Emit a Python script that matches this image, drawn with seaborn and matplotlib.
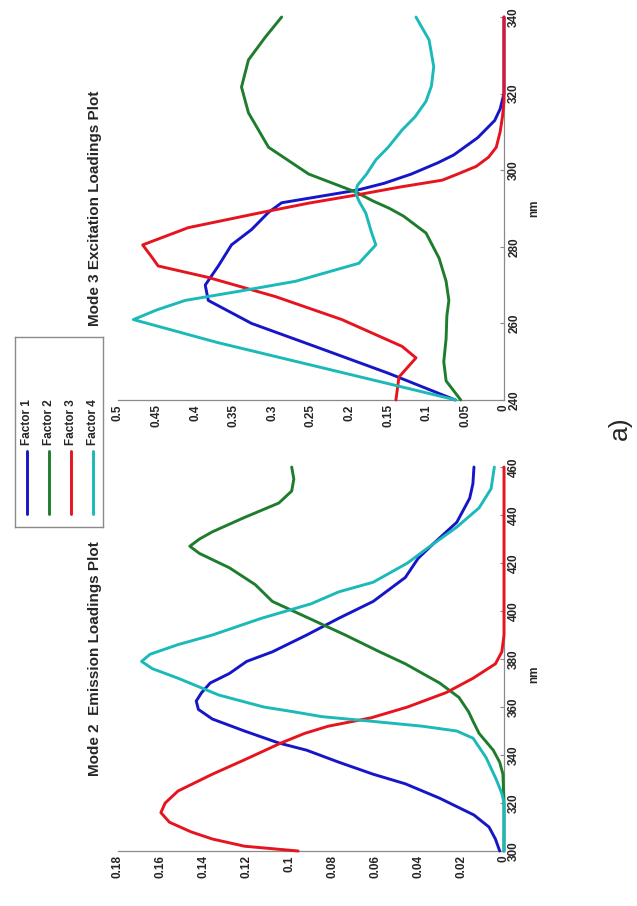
import matplotlib
matplotlib.use("Agg")
import matplotlib.pyplot as plt
import pandas as pd
import seaborn as sns

sns.set_style("white")
plt.rcParams["font.family"] = ["Liberation Sans", "DejaVu Sans"]

FACTORS = ["Factor 1", "Factor 2", "Factor 3", "Factor 4"]
COLORS = {"Factor 1": "#1616c8", "Factor 2": "#1e7d2d",
          "Factor 3": "#e6141e", "Factor 4": "#1cb9b9"}

# ---- Mode 2: emission loadings (nm, loading) ----
em_nm_f1 = [300, 305, 310, 315, 322, 328, 332, 337, 342, 345, 350, 355, 359, 362.5,
            366, 370, 374, 379, 383, 390, 397, 404, 414, 422, 428, 437, 447, 453, 460]
em_f1 = [0.002, 0.004, 0.007, 0.014, 0.030, 0.046, 0.061, 0.077, 0.092, 0.105, 0.121,
         0.136, 0.1425, 0.1435, 0.141, 0.137, 0.128, 0.120, 0.108, 0.092, 0.077, 0.061,
         0.046, 0.040, 0.033, 0.022, 0.016, 0.0145, 0.014]

em_nm_f2 = [300, 320, 332, 337, 342, 349, 354, 358, 364, 370, 378, 383, 390, 397, 404,
            411, 418, 424, 427, 430, 433, 439, 445, 450, 455, 460]
em_f2 = [0.0, 0.0, 0.0005, 0.002, 0.005, 0.0116, 0.0144, 0.0165, 0.021, 0.030, 0.046,
         0.058, 0.074, 0.091, 0.108, 0.116, 0.128, 0.142, 0.1465, 0.142, 0.136, 0.121,
         0.105, 0.099, 0.098, 0.099]

em_nm_f3 = [300, 302, 305, 308, 312, 316, 320, 325, 332, 338, 345, 349, 352, 355.5,
            360, 366, 372, 378, 383, 390, 400, 420, 440, 460]
em_f3 = [0.096, 0.121, 0.136, 0.146, 0.156, 0.160, 0.158, 0.152, 0.136, 0.121, 0.104,
         0.093, 0.082, 0.062, 0.045, 0.027, 0.0144, 0.004, 0.001, 0.0, 0.0, 0.0, 0.0, 0.0]

em_nm_f4 = [300, 320, 324, 330, 339, 347, 350, 352, 354, 356, 358, 360, 365, 372, 376,
            379, 382, 386, 390, 397, 403, 408, 412, 420, 426, 435, 443, 451, 460]
em_f4 = [0.0, 0.0, 0.001, 0.0037, 0.0084, 0.0144, 0.022, 0.038, 0.061, 0.085, 0.098,
         0.112, 0.133, 0.152, 0.164, 0.169, 0.165, 0.152, 0.136, 0.113, 0.090, 0.077,
         0.061, 0.045, 0.036, 0.022, 0.0116, 0.006, 0.0045]

# ---- Mode 3: excitation loadings (nm, loading) ----
ex_nm_f1 = [240, 247, 254, 260, 263, 266, 270, 275, 280.5, 284.5, 289, 291.5, 294.8,
            296.6, 299, 302, 304, 308.5, 313, 316, 320, 330, 340]
ex_f1 = [0.063, 0.15, 0.245, 0.327, 0.355, 0.383, 0.387, 0.37, 0.353, 0.327, 0.305,
         0.288, 0.19, 0.155, 0.12, 0.085, 0.065, 0.034, 0.012, 0.005, 0.0, 0.0, 0.0]

ex_nm_f2 = [240, 245, 250, 256, 262, 266, 271, 277, 283.6, 288, 290, 292, 294.3, 299,
            306, 315, 321.7, 328.8, 334.8, 340]
ex_f2 = [0.056, 0.075, 0.078, 0.075, 0.074, 0.0714, 0.075, 0.084, 0.101, 0.13, 0.148,
         0.17, 0.192, 0.253, 0.305, 0.331, 0.34, 0.331, 0.309, 0.288]

ex_nm_f3 = [240, 246, 251, 254, 261, 267, 272, 275, 277, 280.5, 285, 288.8, 291.4,
            293.5, 295.6, 297.4, 299, 301, 303.4, 306, 310, 314, 318, 340]
ex_f3 = [0.14, 0.136, 0.114, 0.132, 0.21, 0.296, 0.383, 0.448, 0.455, 0.468, 0.409,
         0.318, 0.253, 0.192, 0.135, 0.08, 0.06, 0.036, 0.02, 0.01, 0.005, 0.002, 0.0, 0.0]

ex_nm_f4 = [240, 245, 250, 255, 261, 263.5, 266, 268.5, 271, 275.7, 280.5, 284, 288.8,
            292, 294, 296, 299, 302.7, 306, 310.5, 314, 318, 322, 327, 334, 340]
ex_f4 = [0.062, 0.165, 0.268, 0.371, 0.48, 0.45, 0.413, 0.34, 0.27, 0.188, 0.166, 0.172,
         0.179, 0.188, 0.192, 0.19, 0.178, 0.166, 0.15, 0.132, 0.115, 0.101, 0.094,
         0.091, 0.097, 0.114]

# ---- axis ticks ----
em_nm_ticks = [300, 320, 340, 360, 380, 400, 420, 440, 460]
em_load_ticks = [0, 0.02, 0.04, 0.06, 0.08, 0.1, 0.12, 0.14, 0.16, 0.18]
ex_nm_ticks = [240, 260, 280, 300, 320, 340]
ex_load_ticks = [0, 0.05, 0.1, 0.15, 0.2, 0.25, 0.3, 0.35, 0.4, 0.45, 0.5]

em_title = "Mode 2  Emission Loadings Plot"
ex_title = "Mode 3 Excitation Loadings Plot"


def long_table(nm_lists, val_lists):
    frames = [pd.DataFrame({"nm": nm, "loading": val, "factor": name})
              for name, nm, val in zip(FACTORS, nm_lists, val_lists)]
    return pd.concat(frames, ignore_index=True)


em_df = long_table([em_nm_f1, em_nm_f2, em_nm_f3, em_nm_f4], [em_f1, em_f2, em_f3, em_f4])
ex_df = long_table([ex_nm_f1, ex_nm_f2, ex_nm_f3, ex_nm_f4], [ex_f1, ex_f2, ex_f3, ex_f4])

TICK_FS = 8.5
SPINE_C = "#8a8a8a"


def draw_panel(ax, df, nm_ticks, load_ticks, title, nm_label_y):
    sns.lineplot(data=df, x="loading", y="nm", hue="factor", hue_order=FACTORS,
                 palette=COLORS, estimator=None, orient="y", linewidth=2.1,
                 legend=False, ax=ax)
    for ln in ax.lines:
        ln.set_clip_on(False)
        ln.set_zorder(3)
    # page is turned a quarter: wavelength runs upward, loading grows to the left
    ax.set_xlim(load_ticks[-1], 0)
    ax.set_ylim(nm_ticks[0], nm_ticks[-1])
    ax.yaxis.tick_right()
    for side in ("left", "top"):
        ax.spines[side].set_visible(False)
    for side in ("right", "bottom"):
        ax.spines[side].set_color(SPINE_C)
        ax.spines[side].set_linewidth(0.9)
    ax.tick_params(axis="both", direction="in", length=3, width=0.8,
                   color=SPINE_C, pad=3)
    ax.set_yticks(nm_ticks)
    ax.set_yticklabels([f"{t:g}" for t in nm_ticks], rotation=90, va="center",
                       fontsize=TICK_FS, fontweight="bold")
    ax.set_xticks(load_ticks)
    ax.set_xticklabels([f"{t:g}" for t in load_ticks], rotation=90, ha="center",
                       va="top", fontsize=TICK_FS, fontweight="bold")
    ax.set_xlabel("")
    ax.yaxis.set_label_position("right")
    ax.set_ylabel("nm", rotation=90, fontsize=TICK_FS, fontweight="bold")
    ax.yaxis.label.set_va("center")
    ax.yaxis.set_label_coords(1.078, nm_label_y)
    ax.text(-0.06, 0.5, title, transform=ax.transAxes, rotation=90,
            ha="center", va="center", fontsize=11, fontweight="bold")


fig = plt.figure(figsize=(6.37, 9.06), dpi=100)
ax_ex = fig.add_axes([0.1852, 0.5585, 0.606, 0.4227])
ax_em = fig.add_axes([0.1852, 0.0607, 0.606, 0.4238])

draw_panel(ax_ex, ex_df, ex_nm_ticks, ex_load_ticks, ex_title, 0.5)
draw_panel(ax_em, em_df, em_nm_ticks, em_load_ticks, em_title, 0.46)

# legend box, turned with the page
lg = fig.add_axes([0.0236, 0.4183, 0.1381, 0.2097])
lg.set_xlim(0, 4)
lg.set_ylim(0, 1)
lg.set_xticks([])
lg.set_yticks([])
for sp in lg.spines.values():
    sp.set_color(SPINE_C)
    sp.set_linewidth(1.0)
for i, name in enumerate(FACTORS):
    x = i + 0.55
    lg.plot([x, x], [0.07, 0.40], color=COLORS[name], linewidth=2.1)
    lg.text(x, 0.43, name, rotation=90, ha="center", va="bottom",
            fontsize=8.5, fontweight="bold")

fig.text(0.9733, 0.5276, "a)", rotation=90, ha="center", va="center", fontsize=19)

fig.savefig("out.png", dpi=100)
